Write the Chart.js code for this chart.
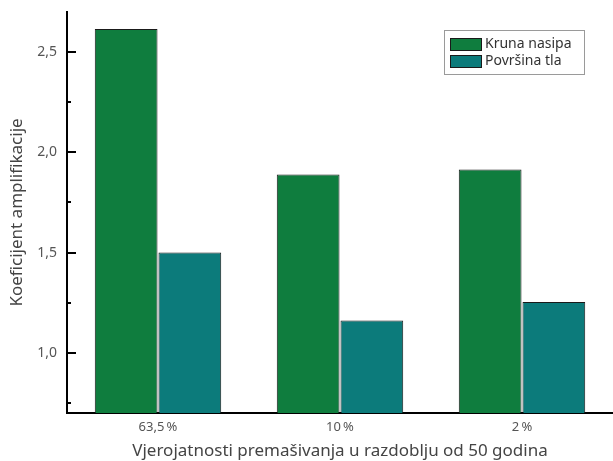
<!DOCTYPE html>
<html>
<head>
<meta charset="utf-8">
<script src="https://cdn.jsdelivr.net/npm/chart.js@4/dist/chart.umd.min.js"></script>
<style>
  html, body { margin: 0; padding: 0; background: #fff; }
  #wrap { width: 613px; height: 461px; }
</style>
</head>
<body>
<div id="wrap"><canvas id="myChart"></canvas></div>
<script>
// categories and values
var categories = ['63,5\u202F%', '10\u202F%', '2\u202F%']
var krunaNasipa = [2.615, 1.889, 1.914]
var povrsinaTla = [1.50, 1.161, 1.253]
var yTicks = [0.75, 1.0, 1.25, 1.5, 1.75, 2.0, 2.25, 2.5]
var yMajor = [1.0, 1.5, 2.0, 2.5]

var fontFam = '"Noto Sans", "Open Sans", sans-serif'

// ticks pointing into the plot + legend with a frame
var extras = {
  id: 'extras',
  afterDraw: function (chart) {
    var ctx = chart.ctx
    var y = chart.scales.y
    var area = chart.chartArea
    ctx.save()
    ctx.strokeStyle = '#000'
    ctx.lineWidth = 2
    yTicks.forEach(function (v) {
      var py = Math.round(y.getPixelForValue(v))
      var len = yMajor.indexOf(v) >= 0 ? 9 : 4
      ctx.beginPath()
      ctx.moveTo(area.left, py)
      ctx.lineTo(area.left + len, py)
      ctx.stroke()
    })

    // legend
    var lx = 444, ly = 30, lw = 140, lh = 44
    ctx.lineWidth = 1
    ctx.strokeStyle = '#9a9a9a'
    ctx.strokeRect(lx + 0.5, ly + 0.5, lw, lh)
    ctx.font = '14px ' + fontFam
    ctx.textBaseline = 'middle'
    chart.data.datasets.forEach(function (ds, i) {
      var sy = ly + 8 + i * 17
      ctx.fillStyle = ds.backgroundColor
      ctx.fillRect(450, sy, 31, 12)
      ctx.strokeStyle = '#1a1a1a'
      ctx.strokeRect(450.5, sy + 0.5, 31, 12)
      ctx.fillStyle = '#333'
      ctx.fillText(ds.label, 485, sy + 6)
    })
    ctx.restore()
  }
}

const ctx = document.getElementById('myChart').getContext('2d')
const myChart = new Chart(ctx, {
  type: 'bar',
  data: {
    labels: categories,
    datasets: [{
      label: 'Kruna nasipa',
      data: krunaNasipa,
      backgroundColor: '#0f7d3e',
      borderColor: '#1a1a1a',
      borderWidth: 1,
      borderSkipped: 'bottom'
    },
    {
      label: 'Površina tla',
      data: povrsinaTla,
      backgroundColor: '#0c7b7b',
      borderColor: '#1a1a1a',
      borderWidth: 1,
      borderSkipped: 'bottom'
    }]
  },
  options: {
    responsive: true,
    maintainAspectRatio: false,
    animation: false,
    categoryPercentage: 0.7,
    barPercentage: 0.985,
    layout: { padding: { top: 12, right: 0, left: 0, bottom: 0 } },
    plugins: {
      legend: { display: false },
      tooltip: { enabled: false }
    },
    scales: {
      x: {
        grid: { display: false, drawTicks: false },
        border: { display: true, color: '#000', width: 2 },
        ticks: {
          color: '#555',
          font: { family: fontFam, size: 13 },
          padding: 6
        },
        title: {
          display: true,
          text: 'Vjerojatnosti premašivanja u razdoblju od 50 godina',
          color: '#444',
          font: { family: fontFam, size: 17 },
          padding: { top: 3, bottom: 0 }
        },
        afterFit: function (axis) {
          axis.height = 48
          axis.paddingLeft = 0
          axis.paddingRight = 0
        }
      },
      y: {
        min: 0.7,
        max: 2.7,
        grid: { display: false, drawTicks: false },
        border: { display: true, color: '#000', width: 2 },
        afterBuildTicks: function (axis) {
          axis.ticks = yTicks.map(function (v) { return { value: v } })
        },
        ticks: {
          color: '#555',
          padding: 10,
          font: { family: fontFam, size: 14 },
          callback: function (value) {
            if (yMajor.indexOf(value) < 0) return ''
            return value.toFixed(1).replace('.', ',')
          }
        },
        title: {
          display: true,
          text: 'Koeficijent amplifikacije',
          color: '#444',
          font: { family: fontFam, size: 17 },
          padding: { top: 7, bottom: 0 }
        },
        afterFit: function (axis) {
          axis.width = 67
          axis.paddingTop = 0
          axis.paddingBottom = 0
        }
      }
    }
  },
  plugins: [extras]
})
</script>
</body>
</html>
